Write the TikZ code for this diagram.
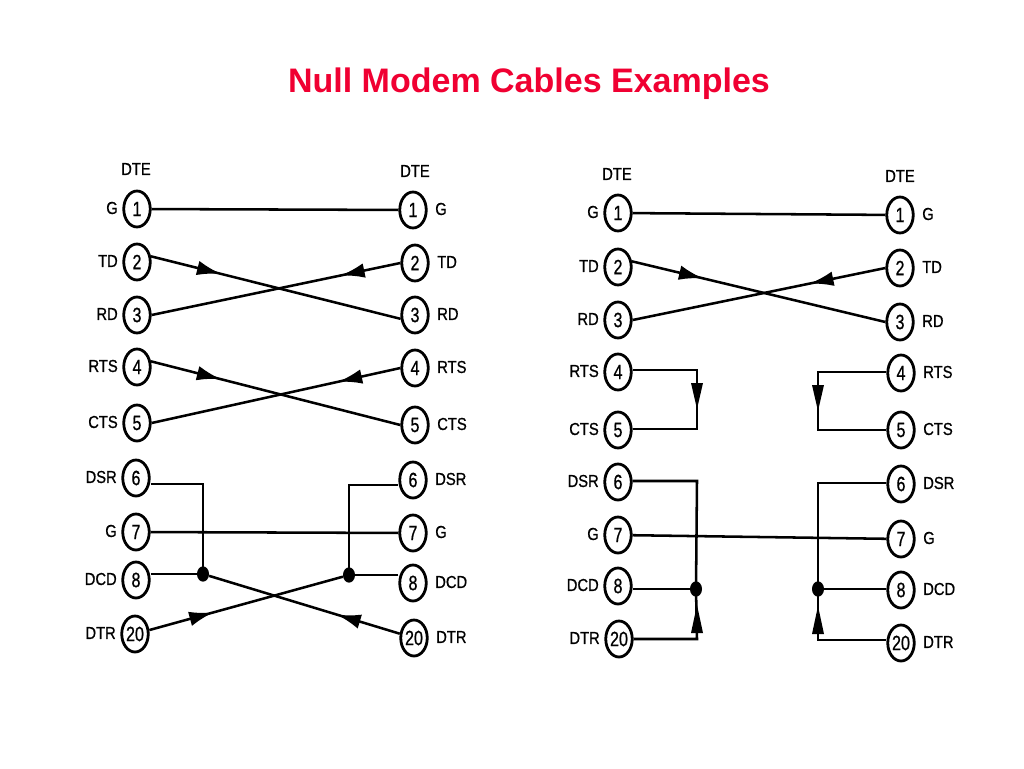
\documentclass[tikz,border=0pt]{standalone}
\usepackage{fontspec}
\usepackage{graphicx}
\setmainfont{Liberation Sans}
\newfontfamily\scanfont[RawFeature={embolden=0.8}]{Liberation Sans}
\usetikzlibrary{decorations.markings,arrows.meta,shapes.geometric}
\tikzset{
 pin/.style={ellipse,draw,line width=2.1pt,inner sep=0pt,minimum width=26.5pt*0.75,minimum height=36pt*0.75,fill=white},
 lab/.style={inner sep=0pt},
 wire/.style={line width=1.9pt},
 dotn/.style={ellipse,fill=black,inner sep=0pt,minimum width=9pt,minimum height=11.5pt},
 mid/.style={postaction={decorate},decoration={markings,mark=at position #1 with {\arrow{Latex[length=18pt,width=11pt]}}}},
}
\newcommand{\pn}[1]{\scalebox{0.78}[1]{\scanfont\fontsize{15.5}{15.5}\selectfont #1}}
\newcommand{\lb}[1]{\scalebox{0.85}[1]{\scanfont\fontsize{13}{14}\selectfont #1}}
\newcommand{\pinL}[5]{\node[pin] (#1) at (#3,#4) {\pn{#2}};\node[lab,anchor=east] at (#3-19,#4-1) {\lb{#5}};}
\newcommand{\pinR}[5]{\node[pin] (#1) at (#3,#4) {\pn{#2}};\node[lab,anchor=west] at (#3+22,#4-1) {\lb{#5}};}
\newcommand{\headdown}[1]{\fill (#1) ++(-6,13) -- ++(12,0) -- ++(-6,26) -- cycle;}
\newcommand{\headup}[1]{\fill (#1) ++(-6,-6) -- ++(12,0) -- ++(-6,-28) -- cycle;}
\begin{document}
\begin{tikzpicture}[x=0.75pt,y=-0.75pt]
\useasboundingbox (0,0) rectangle (1024,768);
\fill[white] (0,0) rectangle (1024,768);
\node[inner sep=0pt,text={rgb,255:red,240;green,0;blue,50},font=\bfseries\fontsize{25.5}{28}\selectfont] (title) at (529,84) {Null Modem Cables Examples};
% left diagram
\node[lab] (d1) at (136,169) {\lb{DTE}};
\node[lab] (d2) at (415,171) {\lb{DTE}};
\pinL{a1}{1}{137}{209}{G}
\pinL{a2}{2}{137}{262}{TD}
\pinL{a3}{3}{137}{315}{RD}
\pinL{a4}{4}{137}{367}{RTS}
\pinL{a5}{5}{137}{423}{CTS}
\pinL{a6}{6}{136}{478}{DSR}
\pinL{a7}{7}{136}{532}{G}
\pinL{a8}{8}{136}{580}{DCD}
\pinL{a20}{20}{135}{634}{DTR}
\pinR{b1}{1}{413}{210}{G}
\pinR{b2}{2}{415}{263}{TD}
\pinR{b3}{3}{415}{315}{RD}
\pinR{b4}{4}{415}{368}{RTS}
\pinR{b5}{5}{415}{425}{CTS}
\pinR{b6}{6}{413}{480}{DSR}
\pinR{b7}{7}{413}{533}{G}
\pinR{b8}{8}{413}{583}{DCD}
\pinR{b20}{20}{414}{638}{DTR}
\coordinate (lc1) at (203,484);
\coordinate (lc2) at (349,485);
\node[dotn] (ld1) at (203,574) {};
\node[dotn] (ld2) at (349,575) {};
\draw[wire] (a1)--(b1);
\draw[wire,mid=0.28] (a2.22)--(b3.195);
\draw[wire,mid=0.24] (b2.west)--(a3.east);
\draw[wire,mid=0.28] (a4.22)--(b5.west);
\draw[wire,mid=0.25] (b4.west)--(a5.east);
\draw[wire] (a6.east |- lc1)--(lc1)--(ld1.center);
\draw[wire] (b6.west |- lc2)--(lc2)--(ld2.center);
\draw[wire] (a7)--(b7);
\draw[wire] (a8.east |- ld1)--(ld1);
\draw[wire] (b8.west |- ld2)--(ld2);
\draw[wire,mid=0.33] (b20)--(ld1);
\draw[wire,mid=0.33] (a20)--(ld2);
% right diagram
\node[lab] (d3) at (617,174) {\lb{DTE}};
\node[lab] (d4) at (900,176) {\lb{DTE}};
\pinL{c1}{1}{618}{213}{G}
\pinL{c2}{2}{618}{267}{TD}
\pinL{c3}{3}{618}{320}{RD}
\pinL{c4}{4}{618}{372}{RTS}
\pinL{c5}{5}{618}{430}{CTS}
\pinL{c6}{6}{618}{482}{DSR}
\pinL{c7}{7}{618}{535}{G}
\pinL{c8}{8}{618}{586}{DCD}
\pinL{c20}{20}{619}{639}{DTR}
\pinR{e1}{1}{900}{215}{G}
\pinR{e2}{2}{900}{268}{TD}
\pinR{e3}{3}{900}{322}{RD}
\pinR{e4}{4}{901}{373}{RTS}
\pinR{e5}{5}{901}{430}{CTS}
\pinR{e6}{6}{901}{484}{DSR}
\pinR{e7}{7}{901}{539}{G}
\pinR{e8}{8}{901}{590}{DCD}
\pinR{e20}{20}{901}{643}{DTR}
\coordinate (r4) at (697,370);
\coordinate (r5) at (697,429);
\coordinate (s4) at (818,372);
\coordinate (s5) at (818,430);
\coordinate (r6) at (697,481);
\coordinate (s6) at (818,483);
\coordinate (r20) at (697,639);
\coordinate (s20) at (818,640);
\node[dotn] (rd) at (696,589) {};
\node[dotn] (sd) at (818,589) {};
\draw[wire] (c1)--(e1);
\draw[wire,mid=0.28] (c2.22)--(e3.west);
\draw[wire,mid=0.30] (e2.west)--(c3.east);
\draw[wire] (c4.east |- r4)--(r4)--(r5)--(c5.east |- r5);
\draw[wire] (e4.west |- s4)--(s4)--(s5)--(e5.west |- s5);
\draw[wire] (c6.east |- r6)--(r6)--(rd.center);
\draw[wire] (e6.west |- s6)--(s6)--(sd.center);
\draw[wire] (c7)--(e7);
\draw[wire] (c8.east |- rd)--(rd);
\draw[wire] (e8.west |- sd)--(sd);
\draw[wire] (c20.east |- r20)--(r20)--(rd.center);
\draw[wire] (e20.west |- s20)--(s20)--(sd.center);
\headdown{r4}
\headdown{s4}
\headup{r20}
\headup{s20}
\end{tikzpicture}
\end{document}
